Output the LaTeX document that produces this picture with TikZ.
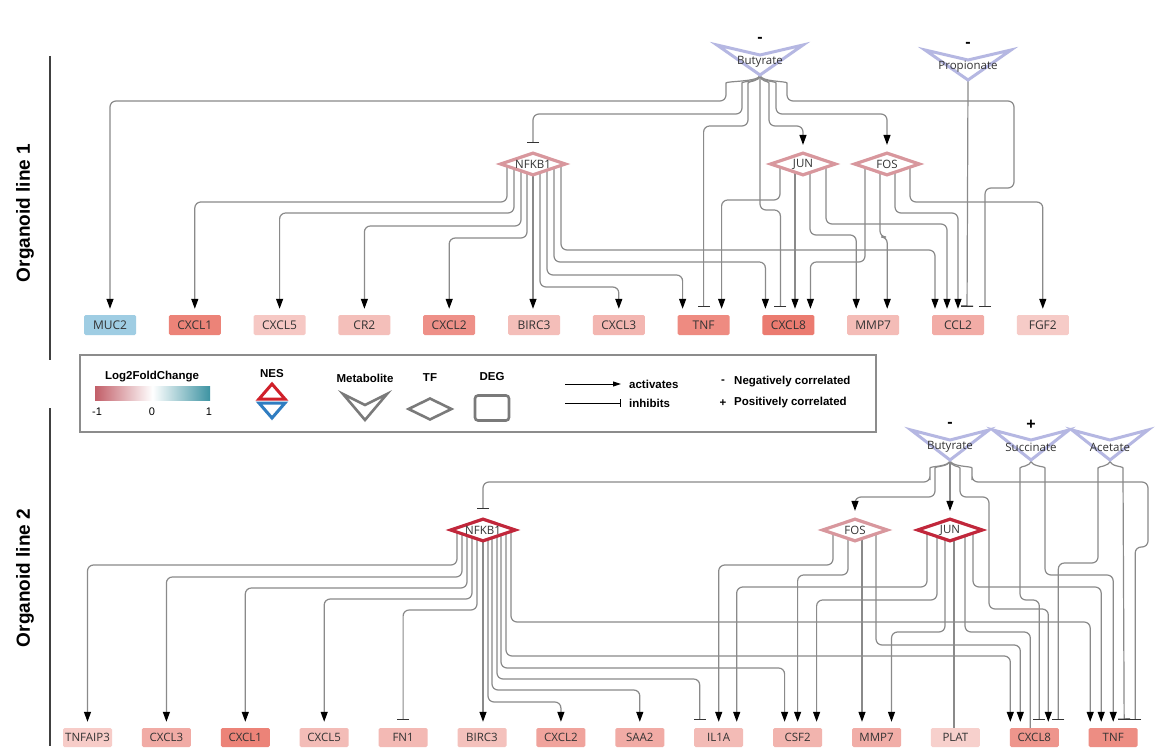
\documentclass[tikz,border=0pt]{standalone}
\usepackage{fontspec}
\setmainfont{Liberation Sans}
\newfontfamily\genefont{Open Sans}
\usetikzlibrary{arrows.meta,shapes.geometric,backgrounds}

\definecolor{edgegray}{HTML}{8A8A8A}
\definecolor{metabblue}{HTML}{B5B7E2}
\definecolor{tfpale}{HTML}{D8979D}
\definecolor{tfdark}{HTML}{C1273B}
\definecolor{nesred}{HTML}{D0202A}
\definecolor{nesblue}{HTML}{2F7DC1}
\definecolor{fcneg}{HTML}{C25E68}
\definecolor{fcpos}{HTML}{3D93A2}
\definecolor{keygray}{HTML}{7A7A7A}

\tikzset{
  link/.style={draw=edgegray, line width=1.2pt, rounded corners=6pt},
  act/.style={-{Triangle[length=10pt,width=7pt,color=black]}, shorten >=6pt},
  inh/.style={-{Bar[width=12pt,line width=1.3pt,color=black!80]}, shorten >=8pt},
  flat/.style={},
  gene/.style={rectangle, rounded corners=1.5pt, minimum width=52pt, minimum height=20pt,
    inner sep=0pt, text=black!80, font=\genefont\fontsize{12}{13}\selectfont},
  genelow/.style={gene, minimum width=49pt, minimum height=19pt,
    font=\genefont\fontsize{11.5}{13}\selectfont},
  tf/.style={diamond, aspect=3, minimum width=66pt, minimum height=23pt, inner sep=0pt,
    fill=white, line width=3.2pt, text=black!80, font=\genefont\fontsize{11.5}{13}\selectfont},
  metab/.style={draw=metabblue, line width=3pt, line join=miter},
  mlabel/.style={inner sep=0pt, text=black!80, font=\genefont\fontsize{11.5}{13}\selectfont},
  corr/.style={inner sep=0pt, font=\bfseries\fontsize{16}{16}\selectfont},
  section/.style={inner sep=0pt, font=\bfseries\fontsize{19}{20}\selectfont},
  rule/.style={draw=black!75, line width=1.2pt},
  legtext/.style={inner sep=0pt, font=\bfseries\fontsize{11.5}{13}\selectfont},
  legnum/.style={inner sep=0pt, font=\fontsize{11}{13}\selectfont},
  keyshape/.style={draw=keygray, line width=2.6pt, line join=miter},
}

% metabolite: name, x, y, half width, label, sign
\newcommand{\metabolite}[6]{%
  \begin{scope}[shift={(#2,#3)}]
    \draw[metab] (-#4,-14) -- (0,-4) -- (#4,-14) -- (0,16) -- cycle;
    \node[mlabel] (#1) at (0,3) {#5};
    \node[corr] (#1-sign) at (0,-19) {#6};
    \coordinate (#1-tip) at (0,16);
  \end{scope}}

% down from a TF, across at a level, down into the target
\newcommand{\route}[6]{%
  \draw[link,#1] ([xshift=#3pt]#2.center) |- ([xshift=#6pt]#5.north |- 0,#4)
    -- ([xshift=#6pt]#5.north);}
% straight down
\newcommand{\drop}[4]{%
  \draw[link,#1] ([xshift=#3pt]#2.center) -- ([xshift=#3pt]#2.center |- #4.north);}
% out of a metabolite tip, then like \route
\newcommand{\fan}[6]{%
  \draw[link,#1] (#2-tip) .. controls +(0,7) and +(0,-8) .. ++(#3,14)
    |- ([xshift=#6pt]#5.north |- 0,#4) -- ([xshift=#6pt]#5.north);}

\begin{document}
\begin{tikzpicture}[x=1pt, y=-1pt]
\useasboundingbox (0,0) rectangle (1162,754);
\begin{scope}[on background layer]
  \fill[white] (0,0) rectangle (1162,754);
\end{scope}

% panel labels
\node[section, rotate=90] (line1) at (25,213) {Organoid line 1};
\node[section, rotate=90] (line2) at (25,578) {Organoid line 2};
\draw[rule] (50,56) -- (50,360);
\draw[rule] (50,408) -- (50,746);

% ---------- organoid line 1 ----------
\metabolite{but1}{760}{59}{43}{Butyrate}{-}
\metabolite{prop1}{968}{64}{43}{Propionate}{-}

\node[tf, draw=tfpale] (nfkb1) at (533,164) {NFKB1};
\node[tf, draw=tfpale] (jun1) at (803,164) {JUN};
\node[tf, draw=tfpale] (fos1) at (887,164) {FOS};

\foreach \id/\lab/\col [count=\i from 0] in {muc2/MUC2/9FCDE3, cxcl1/CXCL1/EC8378,
    cxcl5/CXCL5/F6C8C4, cr2/CR2/F4BFBA, cxcl2/CXCL2/EE9088, birc3/BIRC3/F4BEB9,
    cxcl3/CXCL3/F3B6B1, tnf/TNF/EE8B81, cxcl8/CXCL8/EB7B70, mmp7/MMP7/F4BCB7,
    ccl2/CCL2/F2ACA6, fgf2/FGF2/F6CBC7} {
  \definecolor{genefill}{HTML}{\col}
  \node[gene, fill=genefill] (\id) at ({110+84.8*\i},325) {\lab};
}

% ---------- legend ----------
\draw[draw=black!45, line width=1.1pt] (80,355) rectangle (876,432);
\node[legtext] (fclab) at (152,377) {Log2FoldChange};
\shade[left color=fcneg, right color=fcpos, middle color=white] (95,386) rectangle (210,400);
\node[legnum] (fcmin) at (97,412) {-1};
\node[legnum] (fcmid) at (152,412) {0};
\node[legnum] (fcmax) at (209,412) {1};
\node[legtext] (neslab) at (272,374) {NES};
\draw[nesred, line width=3pt, line join=miter] (259,399) -- (285,399) -- (272,384) -- cycle;
\draw[nesblue, line width=3pt, line join=miter] (259,403) -- (285,403) -- (272,418) -- cycle;
\node[legtext] (metlab) at (365,378) {Metabolite};
\draw[keyshape] (343,394) -- (365,405) -- (387,394) -- (365,420) -- cycle;
\node[legtext] (tflab) at (430,378) {TF};
\node[keyshape, diamond, aspect=2, minimum width=44pt, minimum height=22pt, inner sep=0pt]
  (tfkey) at (430,409) {};
\node[legtext] (deglab) at (492,377) {DEG};
\node[keyshape, rectangle, rounded corners=3pt, minimum width=34pt, minimum height=25pt]
  (degkey) at (492,408) {};
\coordinate (actA) at (565,384);
\coordinate (actB) at (621,384);
\coordinate (inhA) at (565,403);
\coordinate (inhB) at (621,403);
\draw[line width=1pt, -{Triangle[length=8pt,width=5pt]}] (actA) -- (actB);
\draw[line width=1pt, -{Bar[width=8pt]}] (inhA) -- (inhB);
\node[legtext, anchor=west] (actlab) at (629,384) {activates};
\node[legtext, anchor=west] (inhlab) at (629,403) {inhibits};
\node[legtext] (neg) at (723,382) {-};
\node[legtext, anchor=west] (neglab) at (734,382) {Negatively correlated};
\node[legtext] (pos) at (723,403) {+};
\node[legtext, anchor=west] (poslab) at (734,403) {Positively correlated};

% ---------- organoid line 2 ----------
\metabolite{but2}{950}{444}{39}{Butyrate}{-}
\metabolite{succ2}{1031}{444}{38}{Succinate}{+}
\metabolite{acet2}{1110}{444}{38}{Acetate}{}

\node[tf, draw=tfdark] (nfkb2) at (483,530) {NFKB1};
\node[tf, draw=tfpale] (fos2) at (855,530) {FOS};
\node[tf, draw=tfdark] (jun2) at (950,530) {JUN};

\foreach \id/\lab/\col [count=\i from 0] in {tnfaip3/TNFAIP3/F7CCC8, cxcl3b/CXCL3/F1ABA5,
    cxcl1b/CXCL1/EC8378, cxcl5b/CXCL5/F3BCB7, fn1/FN1/F3B9B4, birc3b/BIRC3/F4C1BC,
    cxcl2b/CXCL2/F0A39C, saa2/SAA2/F1ABA5, il1a/IL1A/F3BBB6, csf2/CSF2/F2B4AE,
    mmp7b/MMP7/F1ADA7, plat/PLAT/F7D0CC, cxcl8b/CXCL8/EE958C, tnfb/TNF/ED8D83} {
  \definecolor{genefill}{HTML}{\col}
  \node[genelow, fill=genefill] (\id) at ({87.5+78.9*\i},737.5) {\lab};
}

% ---------- connectors ----------
\begin{scope}[on background layer]
  % butyrate, line 1
  \fan{act}{but1}{-34}{101}{muc2}{0}
  \fan{inh}{but1}{-18}{114}{nfkb1}{0}
  \fan{inh}{but1}{-12}{126}{tnf}{0}
  \fan{inh}{but1}{0}{210}{cxcl8}{-8}
  \fan{act}{but1}{9}{126}{jun1}{0}
  \fan{act}{but1}{16}{114}{fos1}{0}
  \draw[link,inh] (but1-tip) .. controls +(0,7) and +(0,-8) .. ++(27,14)
    |- (1014,101) |- ([xshift=27pt]ccl2.north |- 0,188) -- ([xshift=27pt]ccl2.north);
  \draw[link,inh] (prop1-tip) -- ([xshift=9pt]ccl2.north);

  % NFKB1, line 1
  \route{act}{nfkb1}{-26}{202}{cxcl1}{0}
  \route{act}{nfkb1}{-19}{213}{cxcl5}{0}
  \route{act}{nfkb1}{-12}{226}{cr2}{0}
  \route{act}{nfkb1}{-6}{238}{cxcl2}{0}
  \drop{act}{nfkb1}{0}{birc3}
  \route{act}{nfkb1}{7}{287}{cxcl3}{0}
  \route{act}{nfkb1}{14}{275}{tnf}{-21}
  \route{act}{nfkb1}{21}{262}{cxcl8}{-23}
  \route{act}{nfkb1}{28}{250}{ccl2}{-23}

  % JUN and FOS, line 1
  \route{act}{jun1}{-23}{200}{tnf}{18}
  \drop{act}{jun1}{-8}{cxcl8}
  \route{act}{jun1}{7}{235}{mmp7}{-17}
  \route{act}{jun1}{23}{224}{ccl2}{-11}
  \route{act}{fos1}{-22}{262}{cxcl8}{22}
  \route{act}{fos1}{-7}{237}{mmp7}{14}
  \route{act}{fos1}{8}{213}{ccl2}{0}
  \route{act}{fos1}{23}{202}{fgf2}{0}

  % metabolites, line 2
  \fan{inh}{but2}{-20}{482}{nfkb2}{0}
  \fan{act}{but2}{-15}{497}{fos2}{0}
  \draw[link,act] (but2-tip) -- (jun2.north);
  \draw[link,act] (but2-tip) .. controls +(0,7) and +(0,-8) .. ++(10,14)
    |- (989,497) |- ([xshift=14pt]cxcl8b.north |- 0,609) -- ([xshift=14pt]cxcl8b.north);
  \draw[link,inh] (but2-tip) .. controls +(0,7) and +(0,-8) .. ++(22,14)
    |- (1148,482) |- ([xshift=22pt]tnfb.north |- 0,547) -- ([xshift=22pt]tnfb.north);
  \fan{inh}{succ2}{-11}{600}{cxcl8b}{5}
  \fan{act}{succ2}{14}{575}{tnfb}{0}
  \fan{inh}{acet2}{-12}{563}{cxcl8b}{24}
  \draw[link,inh] (acet2-tip) .. controls +(0,7) and +(0,-8) .. ++(13,14)
    -- ([xshift=11pt]tnfb.north);

  % NFKB1, line 2
  \route{act}{nfkb2}{-26}{565}{tnfaip3}{0}
  \route{act}{nfkb2}{-21}{577}{cxcl3b}{0}
  \route{act}{nfkb2}{-16}{588}{cxcl1b}{0}
  \route{act}{nfkb2}{-11}{599}{cxcl5b}{0}
  \route{inh}{nfkb2}{-6}{610}{fn1}{0}
  \drop{act}{nfkb2}{0}{birc3b}
  \route{act}{nfkb2}{5}{702}{cxcl2b}{0}
  \route{act}{nfkb2}{9}{690}{saa2}{0}
  \route{inh}{nfkb2}{14}{679}{il1a}{-19}
  \route{act}{nfkb2}{18}{668}{csf2}{-13}
  \route{act}{nfkb2}{23}{656}{cxcl8b}{-24}
  \route{act}{nfkb2}{28}{622}{tnfb}{-23}

  % FOS and JUN, line 2
  \route{act}{fos2}{-22}{565}{il1a}{0}
  \route{act}{fos2}{-7}{575}{csf2}{0}
  \drop{act}{fos2}{7}{mmp7b}
  \route{act}{fos2}{21}{645}{cxcl8b}{-14}
  \route{act}{jun2}{-23}{587}{il1a}{18}
  \route{act}{jun2}{-13}{600}{csf2}{19}
  \route{act}{jun2}{-5}{632}{mmp7b}{15}
  \drop{flat}{jun2}{4}{plat}
  \route{flat}{jun2}{15}{632}{cxcl8b}{-4}
  \route{act}{jun2}{23}{587}{tnfb}{-12}
\end{scope}
\end{tikzpicture}
\end{document}
